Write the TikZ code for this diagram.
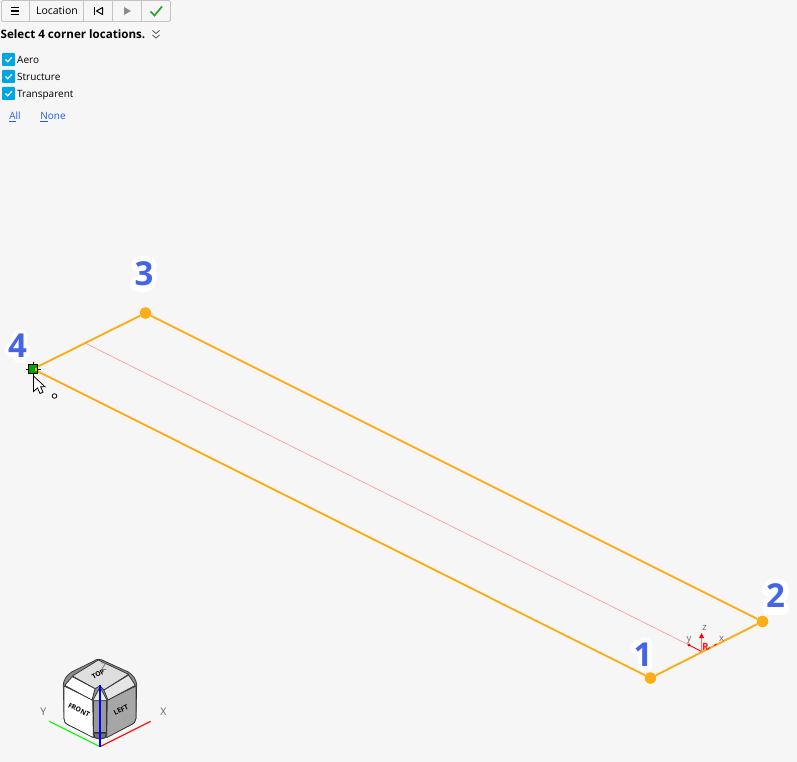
\documentclass[tikz,border=0pt]{standalone}
\usepackage{fontspec}
\setmainfont{Open Sans}
\definecolor{bgc}{HTML}{F6F6F6}
\definecolor{orangec}{HTML}{FBAE17}
\definecolor{bluen}{HTML}{4565E8}
\definecolor{tick}{HTML}{00A6E2}
\definecolor{linkc}{HTML}{1F5FE0}
\definecolor{pinkc}{HTML}{F4A9A9}
\definecolor{tb}{HTML}{C4C4C4}
\definecolor{axisl}{HTML}{666666}
\tikzset{
 x=1pt,y=-1pt,
 corner/.style={circle,fill=orangec,inner sep=0pt,minimum size=11.5pt},
 edge/.style={draw=orangec,line width=1.9pt},
 ui/.style={font=\fontsize{10}{12}\selectfont,text=black,inner sep=0pt},
 lab/.style={ui,anchor=base west},
 linklab/.style={ui,text=linkc,anchor=base},
 bignum/.style={font=\fontsize{33}{36}\bfseries\selectfont,text=bluen,inner sep=0pt},
 halo/.style={draw=white,line width=14pt,line cap=round,line join=round},
 cbox/.style={fill=tick,rounded corners=0.8pt},
 cmark/.style={draw=white,line width=1.3pt},
 cubeedge/.style={draw=black!80,line width=0.75pt,line join=round},
 cubelab/.style={font=\fontsize{6.8}{8}\bfseries\selectfont,text=black,inner sep=0pt},
 axislab/.style={font=\fontsize{10.5}{12}\selectfont,text=axisl,inner sep=0pt},
 smallax/.style={font=\fontsize{9.5}{10}\selectfont,text=axisl,inner sep=0pt},
}
\begin{document}
\begin{tikzpicture}
\useasboundingbox (0,0) rectangle (797,762);
\fill[bgc] (0,0) rectangle (797,762);

% toolbar
\draw[tb,fill=bgc,rounded corners=1.5pt,line width=0.8pt] (1.5,0.5) rectangle (170.5,21.5);
\foreach \xx in {29.5,83.5,112.5,141.5} \draw[tb,line width=0.8pt] (\xx,0.5) -- (\xx,21.5);
\draw[black,line width=1.1pt] (10.5,7.5) -- (18.5,7.5) (10.5,11) -- (18.5,11) (10.5,14.5) -- (18.5,14.5);
\node[ui,anchor=base,font=\fontsize{10.5}{12}\selectfont] (loc) at (57,15) {Location};
\draw[black,line width=1pt] (94.5,7) -- (94.5,15);
\draw[black,line width=1pt,line join=round] (102.5,7.5) -- (96.5,11) -- (102.5,14.5) -- cycle;
\fill[black!45] (124,7) -- (131,11) -- (124,15) -- cycle;
\draw[green!60!black!85!white,line width=1.7pt] (150.5,11.5) -- (154.5,15.5) -- (162,6.5);

\node[ui,anchor=base west,font=\fontsize{11.6}{13}\bfseries\selectfont] (title) at (0.5,39) {Select 4 corner locations.};
\draw[black!70,line width=0.8pt] (152.5,30.5) -- (156,33.5) -- (159.5,30.5) (152.5,35) -- (156,38) -- (159.5,35);

% check boxes
\foreach \yy/\nm/\txt in {59.5/a/Aero,76.5/s/Structure,93.5/t/Transparent}{
  \fill[cbox] (2,\yy-6.5) rectangle (15,\yy+6.5);
  \draw[cmark] (5.5,\yy) -- (7.7,\yy+2.2) -- (11.8,\yy-2.2);
  \node[lab] (\nm) at (17,\yy+4.5) {\txt};
}
\node[linklab] (all) at (15,120) {\underline{A}ll};
\node[linklab] (none) at (53,120) {\underline{N}one};

% corner points
\node[corner] (p1) at (650.5,678) {};
\node[corner] (p2) at (762.5,621.5) {};
\node[corner] (p3) at (145.5,313) {};
\coordinate (p4) at (33,369);

% midline
\coordinate (m1) at (85,343);
\coordinate (m2) at (689,645);
\coordinate (rr) at (701.5,651.5);
\draw[pinkc,line width=0.7pt] (m1) -- (m2);
\draw[edge] (p1) -- (p2);
\draw[edge] (p2) -- (p3);
\draw[edge] (p3) -- (p4);
\draw[edge] (p4) -- (p1);

% origin triad
\draw[red,line width=0.9pt] (m2) -- (rr);
\fill[red] (m2) circle (1.7);
\draw[pinkc!70!red,line width=1.5pt] (rr) -- (701.5,637);
\fill[red] (701.5,633) -- (704,638) -- (699,638) -- cycle;
\draw[red,line width=0.9pt] (708,648.5) -- (710,647.5) (714,645.5) -- (716.5,644);
\node[font=\fontsize{10}{11}\bfseries\selectfont,text=red!90!white,inner sep=0pt] (rl) at (705.5,647) {R};
\node[smallax] (zl) at (704.5,628) {z};
\node[smallax] (yl) at (689,640) {y};
\node[smallax] (xl) at (721.5,639) {x};

% selected marker
\draw[black,line width=0.9pt] (33,361.5) -- (33,376.5) (25.5,369) -- (40.5,369);
\node[draw=black,fill=green!65!black,line width=0.9pt,minimum size=9pt,inner sep=0pt] (sel) at (33,369) {};
\fill[orangec] (35,367.5) rectangle (37,370.5);
% cursor
\draw[black,fill=white,line width=0.8pt,line join=miter] (33.5,376) -- (33.5,391.5) -- (37.5,388) -- (40,393.5) -- (43,392.2) -- (40.7,386.8) -- (45,386.8) -- cycle;
\draw[black,fill=white,line width=0.8pt] (54.5,396) circle (2.3);

% number halos
\draw[halo] (638,648) -- (645,644.5) -- (645,665);
\draw[halo] (769,590) .. controls (771,583) and (782,583) .. (782,592) .. controls (782,597) and (774,601) .. (769,608) -- (782,608);
\draw[halo] (138,265) .. controls (143,260) and (151,262) .. (150,268) .. controls (150,272) and (146,273) .. (144,273) .. controls (148,273) and (151,276) .. (150,280) .. controls (149,286) and (141,286) .. (137,284);
\draw[halo] (20,336) -- (12,350) -- (24,350) (20,336) -- (20,356);

\node[bignum] (n1) at (643,654.5) {1};
\node[bignum] (n2) at (775.5,596) {2};
\node[bignum] (n3) at (144,273.5) {3};
\node[bignum] (n4) at (17.5,345.5) {4};

% view cube
\begin{scope}[shift={(30,650)},x=0.3333pt,y=-0.3333pt]
 % body
 \draw[cubeedge,fill=black!45] (205,28) .. controls (212,28) and (218,30) .. (225,34) -- (295,66) .. controls (310,76) and (320,90) .. (320,105) -- (318,205) .. controls (318,215) and (312,220) .. (300,226) -- (225,263) .. controls (215,268) and (205,268) .. (195,263) -- (118,226) .. controls (105,220) and (102,215) .. (102,205) -- (100,105) .. controls (100,90) and (110,76) .. (125,66) -- (190,34) .. controls (196,30) and (200,28) .. (205,28) -- cycle;
 % top
 \draw[cubeedge,fill=black!13] (205,30) -- (296,73) -- (222,120) -- (210,108) -- (195,116) -- (127,78) -- cycle;
 % front
 \draw[cubeedge,fill=white] (102,108) -- (188,150) -- (190,263) -- (118,226) .. controls (105,220) and (102,215) .. (102,205) -- cycle;
 % left
 \draw[cubeedge,fill=black!35] (318,108) -- (232,150) -- (230,263) -- (300,226) .. controls (312,220) and (318,215) .. (318,205) -- cycle;
 % bevels
 \draw[cubeedge,fill=white] (127,80) -- (195,116) -- (186,150) -- (104,106) -- cycle;
 \draw[cubeedge,fill=black!10] (296,75) -- (222,120) -- (234,150) -- (316,106) -- cycle;
 \draw[cubeedge,fill=black!40] (190,152) -- (230,152) -- (230,248) -- (190,248) -- cycle;
 \draw[cubeedge,fill=black!8] (188,152) -- (210,112) -- (232,152) -- cycle;
 \draw[cubeedge,fill=black!55] (190,250) -- (230,250) -- (225,263) .. controls (215,268) and (205,268) .. (195,263) -- cycle;
 \node[cubelab,rotate=-26] (cf) at (147,180) {FRONT};
 \node[cubelab,rotate=26] (cl) at (273,180) {LEFT};
 \node[cubelab,rotate=30] (ct) at (205,73) {TOP};
 \coordinate (o) at (210,290);
 \coordinate (ax) at (362,214);
 \coordinate (ay) at (58,214);
 \coordinate (az) at (210,105);
 \draw[red,line width=1.1pt] (o) -- (ax);
 \draw[green,line width=1.1pt] (o) -- (ay);
 \draw[blue,line width=1.4pt] (o) -- (az);
 \node[axislab,text=axisl] (zc) at (222,50) {Z};
 \node[axislab] (yc) at (40,185) {Y};
 \node[axislab] (xc) at (400,185) {X};
\end{scope}
\end{tikzpicture}
\end{document}
